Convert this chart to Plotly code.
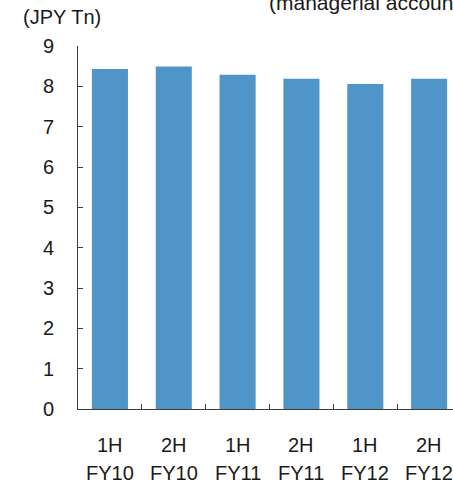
import plotly.graph_objects as go

# Half-year revenue, JPY trillion
halves = ["1H", "2H", "1H", "2H", "1H", "2H"]
fiscal_years = ["FY10", "FY10", "FY11", "FY11", "FY12", "FY12"]
values = [8.43, 8.49, 8.29, 8.19, 8.06, 8.19]
periods = [f"{h} {fy}" for h, fy in zip(halves, fiscal_years)]

FONT = "Liberation Sans, Arial, sans-serif"
TXT = "#1a1a1a"
AXIS = "#3c3c3c"
FS = 20

fig = go.Figure(
    go.Bar(
        x=periods,
        y=values,
        marker=dict(color="#4F95C8", line=dict(width=0)),
        hoverinfo="skip",
    )
)

annotations = []
for p, h, fy in zip(periods, halves, fiscal_years):
    annotations.append(dict(x=p, xref="x", y=-0.099, yref="paper", text=h,
                            showarrow=False, xanchor="center", yanchor="middle",
                            font=dict(size=FS, color=TXT, family=FONT)))
    annotations.append(dict(x=p, xref="x", y=-0.177, yref="paper", text=fy,
                            showarrow=False, xanchor="center", yanchor="middle",
                            font=dict(size=FS, color=TXT, family=FONT)))

annotations.append(dict(x=-0.153, xref="paper", y=1.08, yref="paper",
                        text="(JPY Tn)", showarrow=False, xanchor="left",
                        yanchor="middle", font=dict(size=FS, color=TXT, family=FONT)))
annotations.append(dict(x=0.503, xref="paper", y=1.12, yref="paper",
                        text="(managerial accounting)", showarrow=False,
                        xanchor="left", yanchor="middle",
                        font=dict(size=21, color=TXT, family=FONT)))

fig.update_layout(
    width=453,
    height=483,
    margin=dict(l=78, r=0, t=46, b=74),
    paper_bgcolor="white",
    plot_bgcolor="white",
    bargap=0.435,
    showlegend=False,
    font=dict(family=FONT, size=FS, color=TXT),
    annotations=annotations,
    xaxis=dict(
        type="category",
        range=[-0.5, 5.374],
        showticklabels=False,
        tickson="boundaries",
        ticks="inside",
        ticklen=5,
        tickcolor=AXIS,
        showline=True,
        linecolor=AXIS,
        linewidth=1,
        showgrid=False,
        zeroline=False,
    ),
    yaxis=dict(
        range=[0, 9],
        dtick=1,
        ticks="inside",
        ticklen=5,
        tickcolor=AXIS,
        showline=True,
        linecolor=AXIS,
        linewidth=1,
        showgrid=False,
        zeroline=False,
        ticklabelstandoff=19,
        tickfont=dict(size=FS, color=TXT, family=FONT),
    ),
)

fig.write_html("out.html")
